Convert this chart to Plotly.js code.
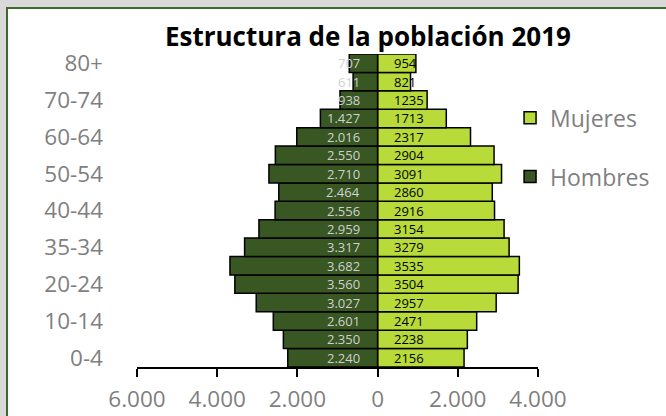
<!DOCTYPE html>
<html>
<head>
<meta charset="utf-8">
<script src="https://cdn.plot.ly/plotly-3.0.1.min.js"></script>
<style>
  html, body { margin: 0; padding: 0; width: 666px; height: 416px; overflow: hidden; background: #d9d9d9; }
  #chart { position: absolute; left: 6px; top: 7px; width: 658px; height: 407px;
           border-left: 2px solid #3d6b2b; border-top: 2px solid #3d6b2b; background: #ffffff; }
</style>
</head>
<body>
<div id="chart"></div>
<script>
// Age groups, bottom to top (label text kept exactly as in the source, incl. "35-34")
const ageGroups = ["0-4","5-9","10-14","15-19","20-24","25-29","35-34","35-39","40-44","45-49",
                   "50-54","55-59","60-64","65-69","70-74","75-79","80+"];
const hombres = [2240, 2350, 2601, 3027, 3560, 3682, 3317, 2959, 2556, 2464,
                 2710, 2550, 2016, 1427, 938, 611, 707];
const mujeres = [2156, 2238, 2471, 2957, 3504, 3535, 3279, 3154, 2916, 2860,
                 3091, 2904, 2317, 1713, 1235, 821, 954];
const xTickVals = [-6000, -4000, -2000, 0, 2000, 4000];
const xTickText = ["6.000", "4.000", "2.000", "0", "2.000", "4.000"];
const yTickVals = ["0-4","10-14","20-24","35-34","40-44","50-54","60-64","70-74","80+"];

const fmtDot = v => String(v).replace(/\B(?=(\d{3})+(?!\d))/g, ".");

const FONT = "Open Sans, Noto Sans, sans-serif";
const DARK = "#385723", LIME = "#b8db3a";

const traces = [
  {
    type: "bar", orientation: "h", name: "Mujeres", legendgroup: "m",
    y: ageGroups, x: mujeres,
    marker: { color: LIME, line: { color: "#000000", width: 1.5 } },
    hoverinfo: "skip"
  },
  {
    type: "bar", orientation: "h", name: "Hombres", legendgroup: "h",
    y: ageGroups, x: hombres.map(v => -v),
    marker: { color: DARK, line: { color: "#000000", width: 1.5 } },
    hoverinfo: "skip"
  }
];

const annotations = [];
ageGroups.forEach((g, i) => {
  annotations.push({ x: 0, y: g, xref: "x", yref: "y", text: fmtDot(hombres[i]),
    showarrow: false, xanchor: "right", xshift: -16, font: { family: FONT, size: 13, color: "#d0d0d0" } });
  annotations.push({ x: 0, y: g, xref: "x", yref: "y", text: String(mujeres[i]),
    showarrow: false, xanchor: "left", xshift: 14, font: { family: FONT, size: 13, color: "#000000" } });
});

const layout = {
  width: 658, height: 407,
  margin: { l: 129, r: 127, t: 45, b: 49 },
  paper_bgcolor: "#ffffff", plot_bgcolor: "#ffffff",
  font: { family: FONT, color: "#7f7f7f" },
  title: { text: "<b>Estructura de la población 2019</b>", x: 0.547, xanchor: "center",
           y: 1, yanchor: "top", pad: { t: 19 },
           font: { family: FONT, size: 26, color: "#000000" } },
  barmode: "relative", bargap: 0,
  xaxis: { range: [-6000, 4000], tickvals: xTickVals, ticktext: xTickText,
           showgrid: false, zeroline: false, showline: true, linecolor: "#000000", linewidth: 2,
           ticks: "outside", ticklen: 8, tickwidth: 2, tickcolor: "#000000", ticklabelstandoff: 3,
           tickfont: { family: FONT, size: 22.5, color: "#7f7f7f" }, fixedrange: true },
  yaxis: { type: "category", categoryorder: "array", categoryarray: ageGroups,
           range: [-0.5, 16.5], tickvals: yTickVals, showgrid: false, zeroline: false,
           showline: false, ticks: "", ticklabelstandoff: 33,
           tickfont: { family: FONT, size: 22.5, color: "#7f7f7f" }, fixedrange: true },
  showlegend: true,
  legend: { x: 0.928, xanchor: "left", y: 0.865, yanchor: "top", traceorder: "grouped",
            tracegroupgap: 26, font: { family: FONT, size: 23, color: "#7f7f7f" },
            bgcolor: "rgba(0,0,0,0)" },
  annotations: annotations
};

Plotly.newPlot("chart", traces, layout, { staticPlot: true, displayModeBar: false });
</script>
</body>
</html>
